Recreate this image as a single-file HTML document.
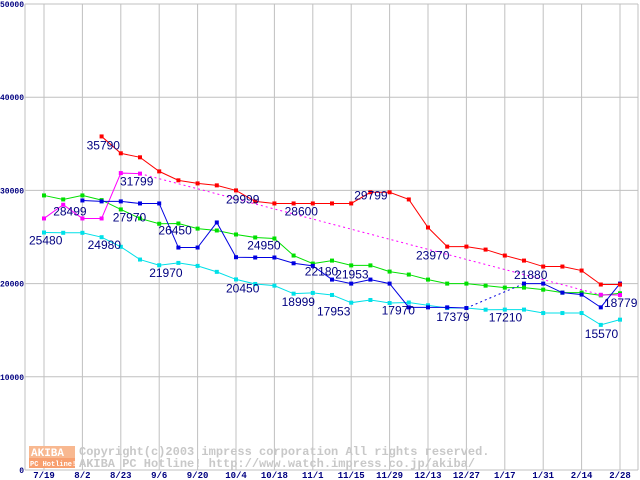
<!DOCTYPE html>
<html><head><meta charset="utf-8"><style>
body{margin:0;background:#fff;width:640px;height:480px;overflow:hidden}
svg{display:block}
.lbl{font-family:"Liberation Sans",sans-serif;font-size:12px;fill:#000080}
.tk{font-family:"Liberation Mono",monospace;font-size:9px;font-weight:bold;fill:#000080}
.yk{font-family:"Liberation Mono",monospace;font-size:8px;font-weight:bold;fill:#000080}
.wm{font-family:"Liberation Mono",monospace;font-size:12px;font-weight:bold;fill:#c8c8c8}
</style></head><body>
<svg id="chart" width="640" height="480" xmlns="http://www.w3.org/2000/svg"></svg>
<script>
const xLabels=["7/19","8/2","8/23","9/6","9/20","10/4","10/18","11/1","11/15","11/29","12/13","12/27","1/17","1/31","2/14","2/28"];
const yTicks=[0,10000,20000,30000,40000,50000];
const N=null;
const red=[N,N,N,35790,33980,33550,32040,31080,30750,30540,29999,28820,28600,28600,28600,28600,28600,29799,29799,29030,26020,23970,23970,23650,23010,22470,21830,21830,21400,19900,19900];
const green=[29460,29030,29460,28960,27960,26990,26420,26450,25900,25700,25270,24950,24840,23010,22150,22470,21953,21953,21290,20970,20430,20000,20000,19780,19570,19570,19350,19030,19030,18740,18960];
const blue=[N,N,28920,28820,28820,28600,28600,23870,23870,26560,22830,22800,22800,22180,21900,20430,20000,20430,20000,17450,17450,17450,17379,N,N,20000,20000,19030,18820,17450,20000];
const magenta=[26990,28460,26990,26990,31860,31799,N,N,N,N,N,N,N,N,N,N,N,N,N,N,N,N,N,N,N,N,N,N,N,18800,18779];
const cyan=[25480,25450,25450,24980,23950,22580,21970,22220,21900,21260,20450,19960,19780,18920,18999,18780,17953,18240,17920,17970,17670,17380,17379,17200,17210,17210,16840,16840,16840,15570,16130];
const annText=["35790","31799","28499","27970","25480","24980","26450","21970","29999","24950","20450","28600","18999","22180","29799","21953","17953","17970","23970","17379","21880","17210","18779","15570"];
const annIdx=[3,5,1,4,0,3,7,6,10,11,10,13,13,14,16,16,15,18,20,21,25,24,30,29];
const annVal=[35790,31799,28499,27970,25480,24980,26450,21970,29999,24950,20450,28600,18999,22180,29799,21953,17953,17970,23970,17379,21880,17210,18779,15570];
const NS="http://www.w3.org/2000/svg";
const svg=document.getElementById('chart');
const X0=44,DX=19.2,Y0=470,K=466/50000,LEFT=25,RIGHT=638;
const xs=i=>X0+DX*i, ys=v=>Y0-v*K;
function mk(t,a,p){const e=document.createElementNS(NS,t);for(const k in a)e.setAttribute(k,a[k]);(p||svg).appendChild(e);return e;}
const grid=mk('g',{});


yTicks.forEach(v=>{mk('line',{x1:LEFT,x2:RIGHT,y1:ys(v),y2:ys(v),stroke:'#c0c0c0','stroke-width':1},grid);
 const s=String(v);
 const w=s.length*4.8;
 const t=mk('text',{x:LEFT-1-w,y:ys(v)+3,class:'yk',textLength:w,lengthAdjust:'spacingAndGlyphs'});t.textContent=s;
 
 });
mk('line',{x1:LEFT,x2:LEFT,y1:ys(50000),y2:Y0,stroke:'#c0c0c0'},grid);
mk('line',{x1:RIGHT,x2:RIGHT,y1:ys(50000),y2:Y0,stroke:'#c0c0c0'},grid);
xLabels.forEach((l,j)=>{const x=xs(j*2);mk('line',{x1:x,x2:x,y1:ys(50000),y2:Y0,stroke:'#c0c0c0'},grid);
 const t=mk('text',{x:x,y:478,'text-anchor':'middle',class:'tk'});t.textContent=l;
 
 });
const wm=mk('g',{});


mk('rect',{x:29,y:446,width:46,height:12,fill:'#f8b890'},wm);
mk('rect',{x:29,y:458,width:46,height:10,fill:'#f8a070'},wm);
let t1=mk('text',{x:31,y:456,class:'wm',style:'fill:#fff;font-size:11px'},wm);t1.textContent='AKIBA';
let t2=mk('text',{x:30,y:466,class:'wm',style:'fill:#fff;font-size:7px'},wm);t2.textContent='PC Hotline!';
let t3=mk('text',{x:79,y:455,class:'wm'},wm);t3.textContent='Copyright(c)2003 impress corporation All rights reserved.';
let t4=mk('text',{x:79,y:467,class:'wm'},wm);t4.textContent='AKIBA PC Hotline!  http://www.watch.impress.co.jp/akiba/';
function series(arr,col,name){
 const g=mk('g',{});
 
 
 let seg=[],prev=null;
 const flush=()=>{if(seg.length>1)mk('polyline',{points:seg.join(' '),fill:'none',stroke:col,'stroke-width':1},g);seg=[];};
 arr.forEach((v,i)=>{
  if(v===null){flush();return;}
  if(prev!==null&&prev<i-1)mk('line',{x1:xs(prev),y1:ys(arr[prev]),x2:xs(i),y2:ys(v),stroke:col,'stroke-dasharray':'2,3'},g);
  seg.push(xs(i)+','+ys(v));prev=i;});
 flush();
 arr.forEach((v,i)=>{if(v===null)return;const r=mk('rect',{x:xs(i)-2,y:ys(v)-2,width:4,height:4,fill:col},g);
  
  });
}
series(cyan,'#00e0e8','series-cyan');
series(green,'#00e000','series-green');
series(magenta,'#ff00ff','series-magenta');
series(blue,'#0000e0','series-blue');
series(red,'#ff0000','series-red');
const dxs=[-15,-20,-10,-8,-15,-14,-20,-10,-10,-8,-10,-9,-12,-8,3,-16,-15,-8,-12,-11,-10,-16,-16,-16];
const dys=[13,12,11,12,12,12,11,12,13,12,13,12,13,12,7,13,13,12,13,13,13,12,12,13];
annText.forEach((s,k)=>{
 const t=mk('text',{x:xs(annIdx[k])+dxs[k],y:ys(annVal[k])+dys[k],class:'lbl'});t.textContent=s;
 
 
});
</script>
</body></html>
